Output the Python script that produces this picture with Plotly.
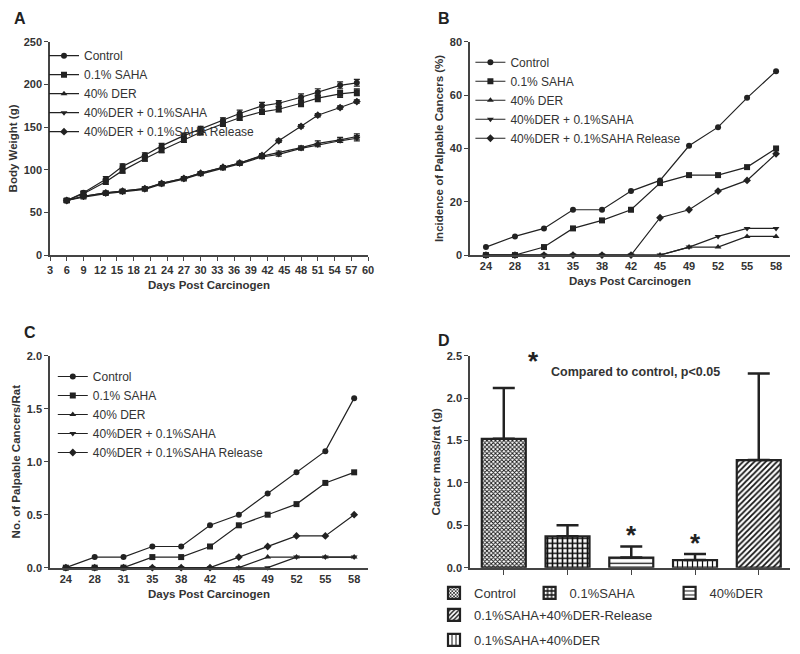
import plotly.graph_objects as go

FONT = "Liberation Sans, Arial, sans-serif"

series_names = ["Control", "0.1% SAHA", "40% DER", "40%DER + 0.1%SAHA", "40%DER + 0.1%SAHA Release"]
series_symbols = ["circle", "square", "triangle-up", "triangle-down", "diamond"]

# Panel A: body weight
days_a = [6, 9, 13, 16, 20, 23, 27, 30, 34, 37, 41, 44, 48, 51, 55, 58]
bw_control = [64, 73, 89, 104, 117, 128, 140, 148, 158, 166, 175, 178, 185, 191, 199, 202]
bw_saha = [64, 72, 86, 99, 113, 123, 135, 144, 154, 161, 168, 171, 178, 184, 189, 191]
bw_der = [64, 69, 73, 75, 78, 84, 90, 96, 103, 108, 116, 120, 126, 131, 135, 139]
bw_der_saha = [64, 68, 72, 74, 77, 83, 89, 95, 102, 107, 115, 118, 125, 129, 134, 137]
bw_release = [64, 69, 73, 75, 78, 84, 90, 96, 103, 108, 117, 134, 151, 164, 173, 180]
bw_err_control = [2, 2, 3, 3, 3, 3, 3, 3, 3, 4, 4, 3, 4, 4, 4, 4]
bw_err_saha = [2, 2, 3, 3, 3, 3, 3, 3, 3, 3, 3, 3, 4, 4, 4, 4]
bw_err_der = [2, 2, 2, 2, 2, 2, 2, 2, 2, 2, 2, 2, 2, 3, 3, 3]
bw_err_der_saha = [2, 2, 2, 2, 2, 2, 2, 2, 2, 2, 2, 2, 2, 2, 2, 3]
bw_err_release = [2, 2, 2, 2, 2, 2, 2, 2, 2, 2, 2, 2, 2, 2, 2, 2]
a_ticks = [3, 6, 9, 12, 15, 18, 21, 24, 27, 30, 33, 36, 39, 42, 45, 48, 51, 54, 57, 60]

# Panels B & C
days_bc = ["24", "28", "31", "35", "38", "42", "45", "49", "52", "55", "58"]
inc_control = [3, 7, 10, 17, 17, 24, 28, 41, 48, 59, 69]
inc_saha = [0, 0, 3, 10, 13, 17, 27, 30, 30, 33, 40]
inc_der = [0, 0, 0, 0, 0, 0, 0, 3, 3, 7, 7]
inc_der_saha = [0, 0, 0, 0, 0, 0, 0, 3, 7, 10, 10]
inc_release = [0, 0, 0, 0, 0, 0, 14, 17, 24, 28, 38]

num_control = [0, 0.1, 0.1, 0.2, 0.2, 0.4, 0.5, 0.7, 0.9, 1.1, 1.6]
num_saha = [0, 0, 0, 0.1, 0.1, 0.2, 0.4, 0.5, 0.6, 0.8, 0.9]
num_der = [0, 0, 0, 0, 0, 0, 0, 0.1, 0.1, 0.1, 0.1]
num_der_saha = [0, 0, 0, 0, 0, 0, 0, 0, 0.1, 0.1, 0.1]
num_release = [0, 0, 0, 0, 0, 0, 0.1, 0.2, 0.3, 0.3, 0.5]

# Panel D: cancer mass
mass_groups = ["Control", "0.1%SAHA", "40%DER", "0.1%SAHA+40%DER", "0.1%SAHA+40%DER-Release"]
mass_mean = [1.52, 0.37, 0.12, 0.09, 1.27]
mass_err = [0.60, 0.13, 0.13, 0.07, 1.02]
mass_patterns = ["x", "+", "-", "|", "/"]
mass_pattern_size = [3, 5, 5, 5, 4]
mass_pattern_solid = [0.5, 0.55, 0.25, 0.25, 0.45]
mass_legend = ["legend4", "legend5", "legend6", "legend8", "legend7"]

fig = go.Figure()

a_vals = [bw_control, bw_saha, bw_der, bw_der_saha, bw_release]
a_errs = [bw_err_control, bw_err_saha, bw_err_der, bw_err_der_saha, bw_err_release]
b_vals = [inc_control, inc_saha, inc_der, inc_der_saha, inc_release]
c_vals = [num_control, num_saha, num_der, num_der_saha, num_release]

for name, sym, ys, es in zip(series_names, series_symbols, a_vals, a_errs):
    fig.add_trace(go.Scatter(
        x=days_a, y=ys, name=name, mode="lines+markers", xaxis="x", yaxis="y",
        line=dict(color="#222", width=1.2), marker=dict(symbol=sym, size=6, color="#222"),
        error_y=dict(type="data", array=es, color="#222", thickness=1.2, width=3),
        legend="legend", cliponaxis=False))

for name, sym, ys in zip(series_names, series_symbols, b_vals):
    fig.add_trace(go.Scatter(
        x=days_bc, y=ys, name=name, mode="lines+markers", xaxis="x2", yaxis="y2",
        line=dict(color="#222", width=1.2), marker=dict(symbol=sym, size=6, color="#222"),
        legend="legend2", cliponaxis=False))

for name, sym, ys in zip(series_names, series_symbols, c_vals):
    fig.add_trace(go.Scatter(
        x=days_bc, y=ys, name=name, mode="lines+markers", xaxis="x3", yaxis="y3",
        line=dict(color="#222", width=1.2), marker=dict(symbol=sym, size=6, color="#222"),
        legend="legend3", cliponaxis=False))

for g, m, e, p, ps, so, lg in zip(mass_groups, mass_mean, mass_err, mass_patterns,
                                  mass_pattern_size, mass_pattern_solid, mass_legend):
    fig.add_trace(go.Bar(
        x=[g], y=[m], name=g, xaxis="x4", yaxis="y4", width=0.69,
        marker=dict(color="white", line=dict(color="#222", width=2.2),
                    pattern=dict(shape=p, size=ps, solidity=so, fgcolor="#111",
                                 bgcolor="white", fgopacity=1)),
        error_y=dict(type="data", symmetric=False, array=[e], arrayminus=[0],
                     color="#222", thickness=2.5, width=11),
        legend=lg))

tickfont = dict(family=FONT, size=11, color="#333", weight="bold")
titlefont = dict(family=FONT, size=11.5, color="#333", weight="bold")

def yax(domain, rng, dtick, title, anchor, fmt=None):
    d = dict(domain=domain, range=rng, dtick=dtick, showline=True, linecolor="#444", linewidth=1.5,
             ticks="outside", ticklen=4, tickcolor="#444", showgrid=False, zeroline=False,
             tickfont=tickfont, title=dict(text=title, font=titlefont, standoff=4), anchor=anchor,
             automargin=False)
    if fmt:
        d["tickformat"] = fmt
    return d

def xax(domain, anchor, **kw):
    d = dict(domain=domain, anchor=anchor, showline=True, linecolor="#444", linewidth=1.5,
             showgrid=False, zeroline=False, tickfont=tickfont, automargin=False)
    d.update(kw)
    return d

top_dom = [0.610, 0.936]
bot_dom = [0.132, 0.456]
left_dom = [0.0625, 0.46]
right_dom = [0.5875, 0.9875]

legfont = dict(family=FONT, size=12, color="#333")
legfont_d = dict(family=FONT, size=13, color="#333")

fig.update_layout(
    width=800, height=654, margin=dict(l=0, r=0, t=0, b=0, autoexpand=False),
    paper_bgcolor="white", plot_bgcolor="white", barmode="overlay",
    xaxis=xax(left_dom, "y", range=[3, 60], tickvals=a_ticks, ticks="outside", ticklen=4,
              tickcolor="#444", title=dict(text="Days Post Carcinogen", font=titlefont, standoff=6)),
    yaxis=yax(top_dom, [0, 250], 50, "Body Weight (g)", "x"),
    xaxis2=xax(right_dom, "y2", type="category", range=[-0.55, 10.48], ticks="",
               title=dict(text="Days Post Carcinogen", font=titlefont, standoff=6)),
    yaxis2=yax(top_dom, [0, 80], 20, "Incidence of Palpable Cancers (%)", "x2"),
    xaxis3=xax(left_dom, "y3", type="category", range=[-0.55, 10.48], ticks="",
               title=dict(text="Days Post Carcinogen", font=titlefont, standoff=6)),
    yaxis3=yax(bot_dom, [0, 2.0], 0.5, "No. of Palpable Cancers/Rat", "x3", ".1f"),
    xaxis4=xax(right_dom, "y4", type="category", categoryorder="array", categoryarray=mass_groups,
               range=[-0.53, 4.49], ticks="outside", ticklen=6, tickcolor="#444", showticklabels=False),
    yaxis4=yax(bot_dom, [0, 2.5], 0.5, "Cancer mass/rat (g)", "x4", ".1f"),
    legend=dict(x=0.055, y=0.937, xanchor="left", yanchor="top", font=legfont,
                bgcolor="rgba(0,0,0,0)", tracegroupgap=0),
    legend2=dict(x=0.588, y=0.927, xanchor="left", yanchor="top", font=legfont,
                 bgcolor="rgba(0,0,0,0)"),
    legend3=dict(x=0.066, y=0.4465, xanchor="left", yanchor="top", font=legfont,
                 bgcolor="rgba(0,0,0,0)"),
    legend4=dict(x=0.5425, y=0.0933, xanchor="left", yanchor="middle", font=legfont_d,
                 bgcolor="rgba(0,0,0,0)"),
    legend5=dict(x=0.662, y=0.0933, xanchor="left", yanchor="middle", font=legfont_d,
                 bgcolor="rgba(0,0,0,0)"),
    legend6=dict(x=0.837, y=0.0933, xanchor="left", yanchor="middle", font=legfont_d,
                 bgcolor="rgba(0,0,0,0)"),
    legend7=dict(x=0.5425, y=0.0596, xanchor="left", yanchor="middle", font=legfont_d,
                 bgcolor="rgba(0,0,0,0)"),
    legend8=dict(x=0.5425, y=0.0214, xanchor="left", yanchor="middle", font=legfont_d,
                 bgcolor="rgba(0,0,0,0)"),
    annotations=[
        dict(text="<b>A</b>", x=12 / 800, y=1 - 8 / 654, xref="paper", yref="paper",
             xanchor="left", yanchor="top", showarrow=False, font=dict(family=FONT, size=16, color="#222")),
        dict(text="<b>B</b>", x=436 / 800, y=1 - 8 / 654, xref="paper", yref="paper",
             xanchor="left", yanchor="top", showarrow=False, font=dict(family=FONT, size=16, color="#222")),
        dict(text="<b>C</b>", x=22 / 800, y=1 - 322 / 654, xref="paper", yref="paper",
             xanchor="left", yanchor="top", showarrow=False, font=dict(family=FONT, size=16, color="#222")),
        dict(text="<b>D</b>", x=436 / 800, y=1 - 330 / 654, xref="paper", yref="paper",
             xanchor="left", yanchor="top", showarrow=False, font=dict(family=FONT, size=16, color="#222")),
        dict(text="*", x=0.46, y=2.44, xref="x4", yref="y4", showarrow=False,
             font=dict(family=FONT, size=26, color="#222", weight="bold")),
        dict(text="<b>Compared to control, p<0.05</b>", x=2.07, y=2.31, xref="x4", yref="y4",
             showarrow=False, font=dict(family=FONT, size=12.5, color="#333")),
        dict(text="*", x="40%DER", y=0.39, xref="x4", yref="y4", showarrow=False,
             font=dict(family=FONT, size=26, color="#222", weight="bold")),
        dict(text="*", x="0.1%SAHA+40%DER", y=0.29, xref="x4", yref="y4", showarrow=False,
             font=dict(family=FONT, size=26, color="#222", weight="bold")),
    ],
)

fig.write_html(
    "out.html",
    config={"displayModeBar": False},
    post_script="document.body.style.margin='0';document.body.style.overflow='hidden';",
)
